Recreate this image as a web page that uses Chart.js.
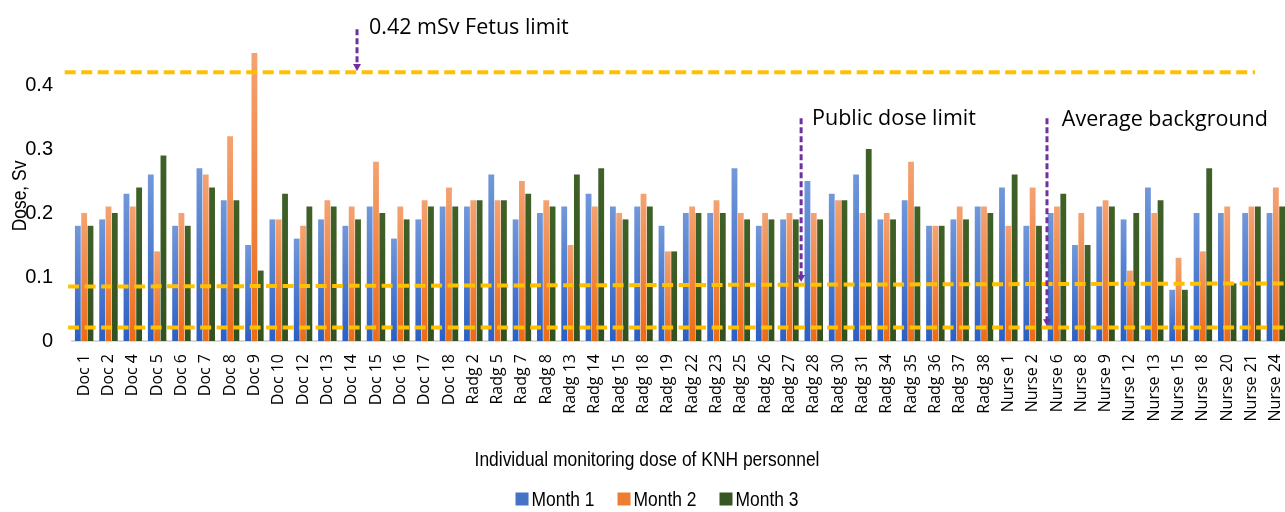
<!DOCTYPE html>
<html>
<head>
<meta charset="utf-8">
<script src="https://cdn.jsdelivr.net/npm/chart.js@4.4.1/dist/chart.umd.min.js"></script>
<style>
  html, body { margin: 0; padding: 0; background: #ffffff; overflow: hidden; }
  #wrap { width: 1285px; height: 512px; position: relative; overflow: hidden; }
</style>
</head>
<body>
<div id="wrap"><canvas id="c" width="1288" height="512"></canvas></div>
<script>
// ---------------- data ----------------
const categories = [
  'Doc 1','Doc 2','Doc 4','Doc 5','Doc 6','Doc 7','Doc 8','Doc 9','Doc 10','Doc 12',
  'Doc 13','Doc 14','Doc 15','Doc 16','Doc 17','Doc 18',
  'Radg 2','Radg 5','Radg 7','Radg 8','Radg 13','Radg 14','Radg 15','Radg 18','Radg 19','Radg 22',
  'Radg 23','Radg 25','Radg 26','Radg 27','Radg 28','Radg 30','Radg 31','Radg 34','Radg 35','Radg 36',
  'Radg 37','Radg 38',
  'Nurse 1','Nurse 2','Nurse 6','Nurse 8','Nurse 9','Nurse 12','Nurse 13','Nurse 15','Nurse 18','Nurse 20',
  'Nurse 21','Nurse 24'
];
const seriesNames = ['Month 1', 'Month 2', 'Month 3'];
const month1 = [
  0.18,0.19,0.23,0.26,0.18,0.27,0.22,0.15,0.19,0.16,
  0.19,0.18,0.21,0.16,0.19,0.21,
  0.21,0.26,0.19,0.20,0.21,0.23,0.21,0.21,0.18,0.20,
  0.20,0.27,0.18,0.19,0.25,0.23,0.26,0.19,0.22,0.18,
  0.19,0.21,
  0.24,0.18,0.20,0.15,0.21,0.19,0.24,0.08,0.20,0.20,
  0.20,0.20
];
const month2 = [
  0.20,0.21,0.21,0.14,0.20,0.26,0.32,0.45,0.19,0.18,
  0.22,0.21,0.28,0.21,0.22,0.24,
  0.22,0.22,0.25,0.22,0.15,0.21,0.20,0.23,0.14,0.21,
  0.22,0.20,0.20,0.20,0.20,0.22,0.20,0.20,0.28,0.18,
  0.21,0.21,
  0.18,0.24,0.21,0.20,0.22,0.11,0.20,0.13,0.14,0.21,
  0.21,0.24
];
const month3 = [
  0.18,0.20,0.24,0.29,0.18,0.24,0.22,0.11,0.23,0.21,
  0.21,0.19,0.20,0.19,0.21,0.21,
  0.22,0.22,0.23,0.21,0.26,0.27,0.19,0.21,0.14,0.20,
  0.20,0.19,0.19,0.19,0.19,0.22,0.30,0.19,0.21,0.18,
  0.19,0.20,
  0.26,0.18,0.23,0.15,0.21,0.20,0.22,0.08,0.27,0.09,
  0.21,0.21
];
// reference dose lines (Sv values, drawn through the y scale)
const guideStart = [0.42, 0.085, 0.021];
const guideEnd   = [0.42, 0.090, 0.021];
// annotation texts
const noteTexts = ['0.42 mSv Fetus limit', 'Public dose limit', 'Average background'];
const xTitle = 'Individual monitoring dose of KNH personnel';
const yTitle = 'Dose, Sv';

// ---------------- styles ----------------
const NARROW = "'Liberation Sans Narrow', 'Arial Narrow', 'Liberation Sans', Arial, sans-serif";
const SANS = "'Open Sans', 'Noto Sans', sans-serif";
const SQUEEZE = 0.83; // horizontal compression to imitate a narrow face
const baseColors = ['#4472C4', '#ED7D31', '#375623'];
const lightColors = ['#7298DA', '#F4A272', '#3F6127'];
const darkColors  = ['#2B5FC4', '#EC6B16', '#33511E'];

function barFill(i) {
  return (ctx) => {
    const chart = ctx.chart;
    if (!chart.chartArea || ctx.type !== 'data' || !chart.scales.y) return baseColors[i];
    const ys = chart.scales.y;
    const top = ys.getPixelForValue(ctx.raw);
    const bot = ys.getPixelForValue(0);
    if (!isFinite(top) || !isFinite(bot) || top === bot) return baseColors[i];
    const g = chart.ctx.createLinearGradient(0, top, 0, bot);
    g.addColorStop(0, lightColors[i]);
    g.addColorStop(1, darkColors[i]);
    return g;
  };
}

const seriesData = [month1, month2, month3];
const datasets = seriesNames.map((name, i) => ({
  label: name,
  data: seriesData[i],
  backgroundColor: barFill(i),
  legendColor: baseColors[i],
  borderWidth: 0,
  categoryPercentage: 0.78,
  barPercentage: 0.92
}));

function narrowText(ctx, text, x, y, align) {
  ctx.save();
  ctx.translate(x, y);
  ctx.scale(SQUEEZE, 1);
  ctx.textAlign = align;
  ctx.fillText(text, 0, 0);
  ctx.restore();
}

// ---------------- overlay plugin: guide lines, arrows, notes, titles, legend ----------------
const overlay = {
  id: 'overlay',
  afterDatasetsDraw(chart) {
    const ctx = chart.ctx;
    const xs = chart.scales.x, ys = chart.scales.y;
    const X = (v) => xs.getPixelForValue(v);
    const Y = (v) => ys.getPixelForValue(v);

    // dashed gold guide lines
    const spans = [[-0.8, 48.14], [-0.66, 49.6], [-0.66, 49.6]];
    ctx.save();
    ctx.strokeStyle = '#FFC000';
    ctx.lineWidth = 4;
    ctx.setLineDash([11, 5.5]);
    guideStart.forEach((v, k) => {
      ctx.beginPath();
      ctx.moveTo(X(spans[k][0]), Y(v));
      ctx.lineTo(X(spans[k][1]), Y(guideEnd[k]));
      ctx.stroke();
    });
    ctx.restore();

    // purple dashed arrows
    const arrows = [
      { at: 11.22, from: 0.487, to: 0.422 },
      { at: 29.48, from: 0.348, to: 0.092 },
      { at: 39.59, from: 0.348, to: 0.023 }
    ];
    ctx.save();
    ctx.strokeStyle = '#7030A0';
    ctx.fillStyle = '#7030A0';
    ctx.lineWidth = 3;
    arrows.forEach(a => {
      const x = X(a.at), y0 = Y(a.from), y1 = Y(a.to);
      ctx.setLineDash([6, 3]);
      ctx.beginPath();
      ctx.moveTo(x, y0);
      ctx.lineTo(x, y1 - 6);
      ctx.stroke();
      ctx.setLineDash([]);
      ctx.beginPath();
      ctx.moveTo(x - 4, y1 - 7);
      ctx.lineTo(x + 4, y1 - 7);
      ctx.lineTo(x, y1);
      ctx.closePath();
      ctx.fill();
    });
    ctx.restore();

    // annotation texts
    const notes = [
      { at: 11.71, y: 0.49 },
      { at: 29.93, y: 0.347 },
      { at: 40.2, y: 0.345 }
    ];
    ctx.save();
    ctx.fillStyle = '#000000';
    ctx.font = '21.5px ' + SANS;
    ctx.textBaseline = 'middle';
    ctx.textAlign = 'left';
    notes.forEach((n, k) => ctx.fillText(noteTexts[k], X(n.at), Y(n.y)));
    ctx.restore();

    // axis titles
    ctx.save();
    ctx.fillStyle = '#000000';
    ctx.font = '21px ' + NARROW;
    ctx.textBaseline = 'middle';
    narrowText(ctx, xTitle, 647, 460, 'center');
    ctx.translate(20, 196);
    ctx.rotate(-Math.PI / 2);
    narrowText(ctx, yTitle, 0, 0, 'center');
    ctx.restore();

    // legend
    ctx.save();
    ctx.font = '21px ' + NARROW;
    ctx.textBaseline = 'middle';
    const box = 13, gapBox = 3, gapItem = 23;
    const items = chart.data.datasets.map(d => ({ label: d.label, color: d.legendColor, w: ctx.measureText(d.label).width * SQUEEZE }));
    const total = items.reduce((s, it) => s + box + gapBox + it.w, 0) + gapItem * (items.length - 1);
    let lx = 657 - total / 2;
    const ly = 499;
    items.forEach(it => {
      ctx.fillStyle = it.color;
      ctx.fillRect(lx, ly - box / 2, box, box);
      ctx.fillStyle = '#000000';
      narrowText(ctx, it.label, lx + box + gapBox, ly + 1, 'left');
      lx += box + gapBox + it.w + gapItem;
    });
    ctx.restore();
  }
};

new Chart(document.getElementById('c'), {
  type: 'bar',
  data: { labels: categories, datasets },
  options: {
    responsive: false,
    animation: false,
    devicePixelRatio: 1,
    layout: { padding: { top: 21, right: 0, left: 0, bottom: 0 } },
    plugins: { legend: { display: false }, tooltip: { enabled: false } },
    scales: {
      x: {
        grid: { display: false, drawTicks: false },
        border: { display: true, color: '#D9D9D9', width: 2 },
        ticks: {
          autoSkip: false, maxRotation: 90, minRotation: 90, padding: 13,
          color: '#000000', font: { family: SANS, size: 16 }
        },
        afterFit: (s) => { s.height = 171; s.paddingLeft = 0; s.paddingRight = 0; }
      },
      y: {
        min: 0, max: 0.5,
        grid: { display: false, drawTicks: false },
        border: { display: false },
        ticks: {
          stepSize: 0.1, padding: 19, color: '#000000',
          font: { family: NARROW, size: 20 },
          callback: (v) => (Math.abs(v - 0.5) < 1e-9 ? '' : String(Math.round(v * 10) / 10))
        },
        afterFit: (s) => { s.width = 72; s.paddingTop = 0; s.paddingBottom = 0; }
      }
    }
  },
  plugins: [overlay]
});
</script>
</body>
</html>
